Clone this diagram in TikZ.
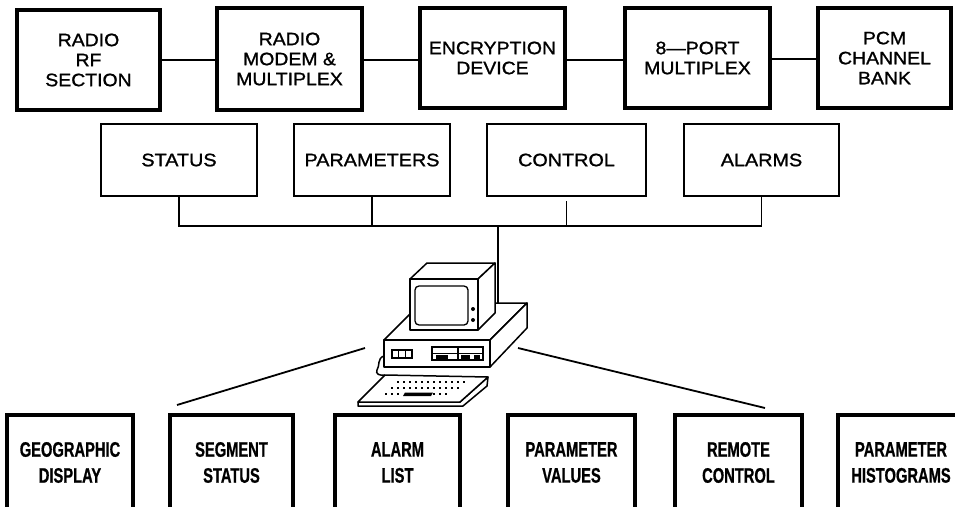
\documentclass[tikz,border=0pt]{standalone}
\usepackage{fontspec}
\setmainfont{Liberation Sans}
\newfontfamily\widefont[FakeStretch=1.08,FakeBold=1.2]{Liberation Sans}
\newfontfamily\midfont[FakeStretch=1.1,FakeBold=1.2]{Liberation Sans}
\newfontfamily\condfont[FakeStretch=0.70,FakeBold=0.8]{Liberation Sans}
\begin{document}
\begin{tikzpicture}[x=1pt,y=-1pt,
  topbox/.style={draw, line width=3.2pt, align=center, inner sep=0pt,
    font=\widefont\fontsize{18}{20}\selectfont},
  midbox/.style={draw, line width=2pt, align=center, inner sep=0pt,
    minimum height=72pt, font=\midfont\fontsize{18}{20}\selectfont},
  scrbox/.style={draw, line width=4pt, align=center, inner sep=0pt,
    minimum height=95pt, font=\condfont\bfseries\fontsize{21}{26}\selectfont},
  wire/.style={line width=1.3pt},
  ray/.style={line width=1.8pt},
  pcline/.style={line width=1.5pt, line join=round, fill=white},
  keydot/.style={fill=black, inner sep=0pt, minimum size=1.6pt}]
\useasboundingbox (0,0) rectangle (955,506);
\clip (0,0) rectangle (955,506);

% ---- equipment chain ----
\node[topbox, minimum width=143pt, minimum height=100pt] (rf)    at (88.5,60)  {RADIO\\RF\\SECTION};
\node[topbox, minimum width=145pt, minimum height=102pt] (modem) at (289.5,59) {RADIO\\MODEM \&\\MULTIPLEX};
\node[topbox, minimum width=145pt, minimum height=100pt] (enc)   at (492.5,58) {ENCRYPTION\\DEVICE};
\node[topbox, minimum width=145pt, minimum height=100pt] (mux)   at (697.5,58) {8—PORT\\MULTIPLEX};
\node[topbox, minimum width=133pt, minimum height=100pt] (pcm)   at (884.5,58) {PCM\\CHANNEL\\BANK};

\draw[wire] (rf.east)    -- (rf.east -| modem.west);
\draw[wire] (modem.east |- 0,60) -- (enc.west |- 0,60);
\draw[wire] (enc.east |- 0,60)   -- (mux.west |- 0,60);
\draw[wire] (mux.east |- 0,59)   -- (pcm.west |- 0,59);

% ---- monitored quantities ----
\node[midbox, minimum width=156pt] (status)  at (179,160)   {STATUS};
\node[midbox, minimum width=156pt] (params)  at (372,160)   {PARAMETERS};
\node[midbox, minimum width=159pt] (control) at (566.5,160) {CONTROL};
\node[midbox, minimum width=155pt] (alarms)  at (761.5,160) {ALARMS};

\coordinate (bus) at (498,226);
\coordinate (pc)  at (498,303);
\draw[wire] (status.south) -- (status.south |- bus) -- (alarms.south |- bus) -- (alarms.south);
\draw[wire] (params.south) -- (params.south |- bus);
\draw[wire] (control.south) ++(0,4) -- (control.south |- bus);
\draw[wire] (bus) -- (pc);

% ---- computer: base unit ----
\draw[pcline] (384,340) -- (421,303) -- (527,303) -- (490,340) -- cycle;
\draw[pcline] (384,340) rectangle (490,367);
\draw[pcline] (490,340) -- (527,303) -- (527,328) -- (490,367) -- cycle;
% disk buttons
\draw[line width=1.2pt] (392,350) rectangle (412,358);
\draw[line width=1.2pt] (398.7,350) -- (398.7,358) (405.3,350) -- (405.3,358);
% drive slots
\draw[line width=1.2pt] (432,347) rectangle (483,360);
\draw[line width=1.2pt] (458,347) -- (458,360) (432,353.5) -- (483,353.5);
\fill (436,355) rectangle (448,358.5);
\fill (461,355) rectangle (470,358.5);
\fill (474,355) rectangle (480,358.5);

% ---- computer: monitor ----
\draw[pcline] (410,279) -- (427,263) -- (495,263) -- (478,279) -- cycle;
\draw[pcline] (478,279) -- (495,263) -- (495,313) -- (478,330) -- cycle;
\draw[pcline] (410,279) rectangle (478,330);
\draw[line width=1.3pt, rounded corners=4pt] (415,286) rectangle (468,325);
\fill (473,309) circle (2pt) (473,320) circle (2pt);

% ---- keyboard ----
\draw[line width=1.5pt, line join=round] (384,356) .. controls (377,358) and (380,366) .. (377,370) .. controls (375,374) and (380,376) .. (385,375);
\draw[pcline] (488,377) -- (487,386) -- (463,406) -- (358,406) -- (358,402) -- (460,402) -- cycle;
\draw[pcline] (385,375) -- (488,377) -- (460,402) -- (358,402) -- cycle;
\foreach \i in {0,...,11} \node[keydot] at (398+6*\i,382) {};
\foreach \i in {0,...,11} \node[keydot] at (392+6*\i,388) {};
\foreach \i in {0,1,2,7,8,9,10} \node[keydot] at (386+6*\i,394) {};
\fill (405,392.5) -- (433,392.5) -- (431,396) -- (403,396) -- cycle;

% ---- fan-out towards the display pages ----
\coordinate (lfrom) at (365,348);
\coordinate (lto)   at (177,405);
\coordinate (rfrom) at (518,348);
\coordinate (rto)   at (765,408);
\draw[ray] (lfrom) -- (lto);
\draw[ray] (rfrom) -- (rto);

% ---- display pages ----
\node[scrbox, minimum width=126pt] (geo)   at (70,462.5)    {GEOGRAPHIC\\DISPLAY};
\node[scrbox, minimum width=123pt] (seg)   at (231.5,462.5) {SEGMENT\\STATUS};
\node[scrbox, minimum width=125pt] (alist) at (397.5,462.5) {ALARM\\LIST};
\node[scrbox, minimum width=127pt] (pval)  at (571.5,462.5) {PARAMETER\\VALUES};
\node[scrbox, minimum width=127pt] (rctl)  at (738.5,462.5) {REMOTE\\CONTROL};
\node[scrbox, minimum width=126pt] (phist) at (901,462.5)   {PARAMETER\\HISTOGRAMS};
\end{tikzpicture}
\end{document}
